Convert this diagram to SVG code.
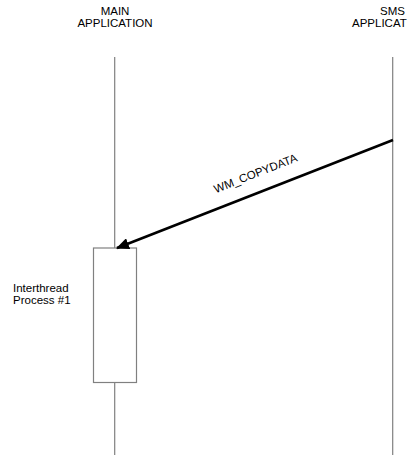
<svg xmlns="http://www.w3.org/2000/svg" width="412" height="468" viewBox="0 0 412 468">
<style>
text{font-family:"Liberation Sans",Arial,sans-serif;font-size:11.5px;fill:#000}
.life{stroke:#808080;stroke-width:1.2;fill:none}
.box{stroke:#808080;stroke-width:1.2;fill:#fff}
.msg{stroke:#000;stroke-width:2.6;fill:none}
</style>
<defs>
<marker id="ah" markerWidth="5" markerHeight="4.4" refX="4.6" refY="2.2" orient="auto" markerUnits="strokeWidth">
<path d="M0,0 L5,2.2 L0,4.4 Z" fill="#000"/>
</marker>
</defs>
<rect width="412" height="468" fill="#fff"/>
<g id="main-app">
<text x="115" y="15" text-anchor="middle">MAIN</text>
<text x="115" y="27" text-anchor="middle">APPLICATION</text>
<line class="life" x1="114.7" y1="57" x2="114.7" y2="248"/>
<line class="life" x1="114.7" y1="383" x2="114.7" y2="455"/>
</g>
<g id="sms-app">
<text x="392.5" y="15" text-anchor="middle">SMS</text>
<text x="352" y="27">APPLICAT</text>
<line class="life" x1="392.7" y1="57" x2="392.7" y2="455"/>
</g>
<g id="process">
<rect class="box" x="93.5" y="248" width="43" height="134.5"/>
<text x="13" y="291.5">Interthread</text>
<text x="13" y="303.5">Process #1</text>
</g>
<g id="connectors">
<line class="msg" x1="393" y1="140" x2="117" y2="248" marker-end="url(#ah)"/>
<text x="257" y="177" text-anchor="middle" font-size="11" transform="rotate(-21.4 257 177)">WM_COPYDATA</text>
</g>
</svg>
